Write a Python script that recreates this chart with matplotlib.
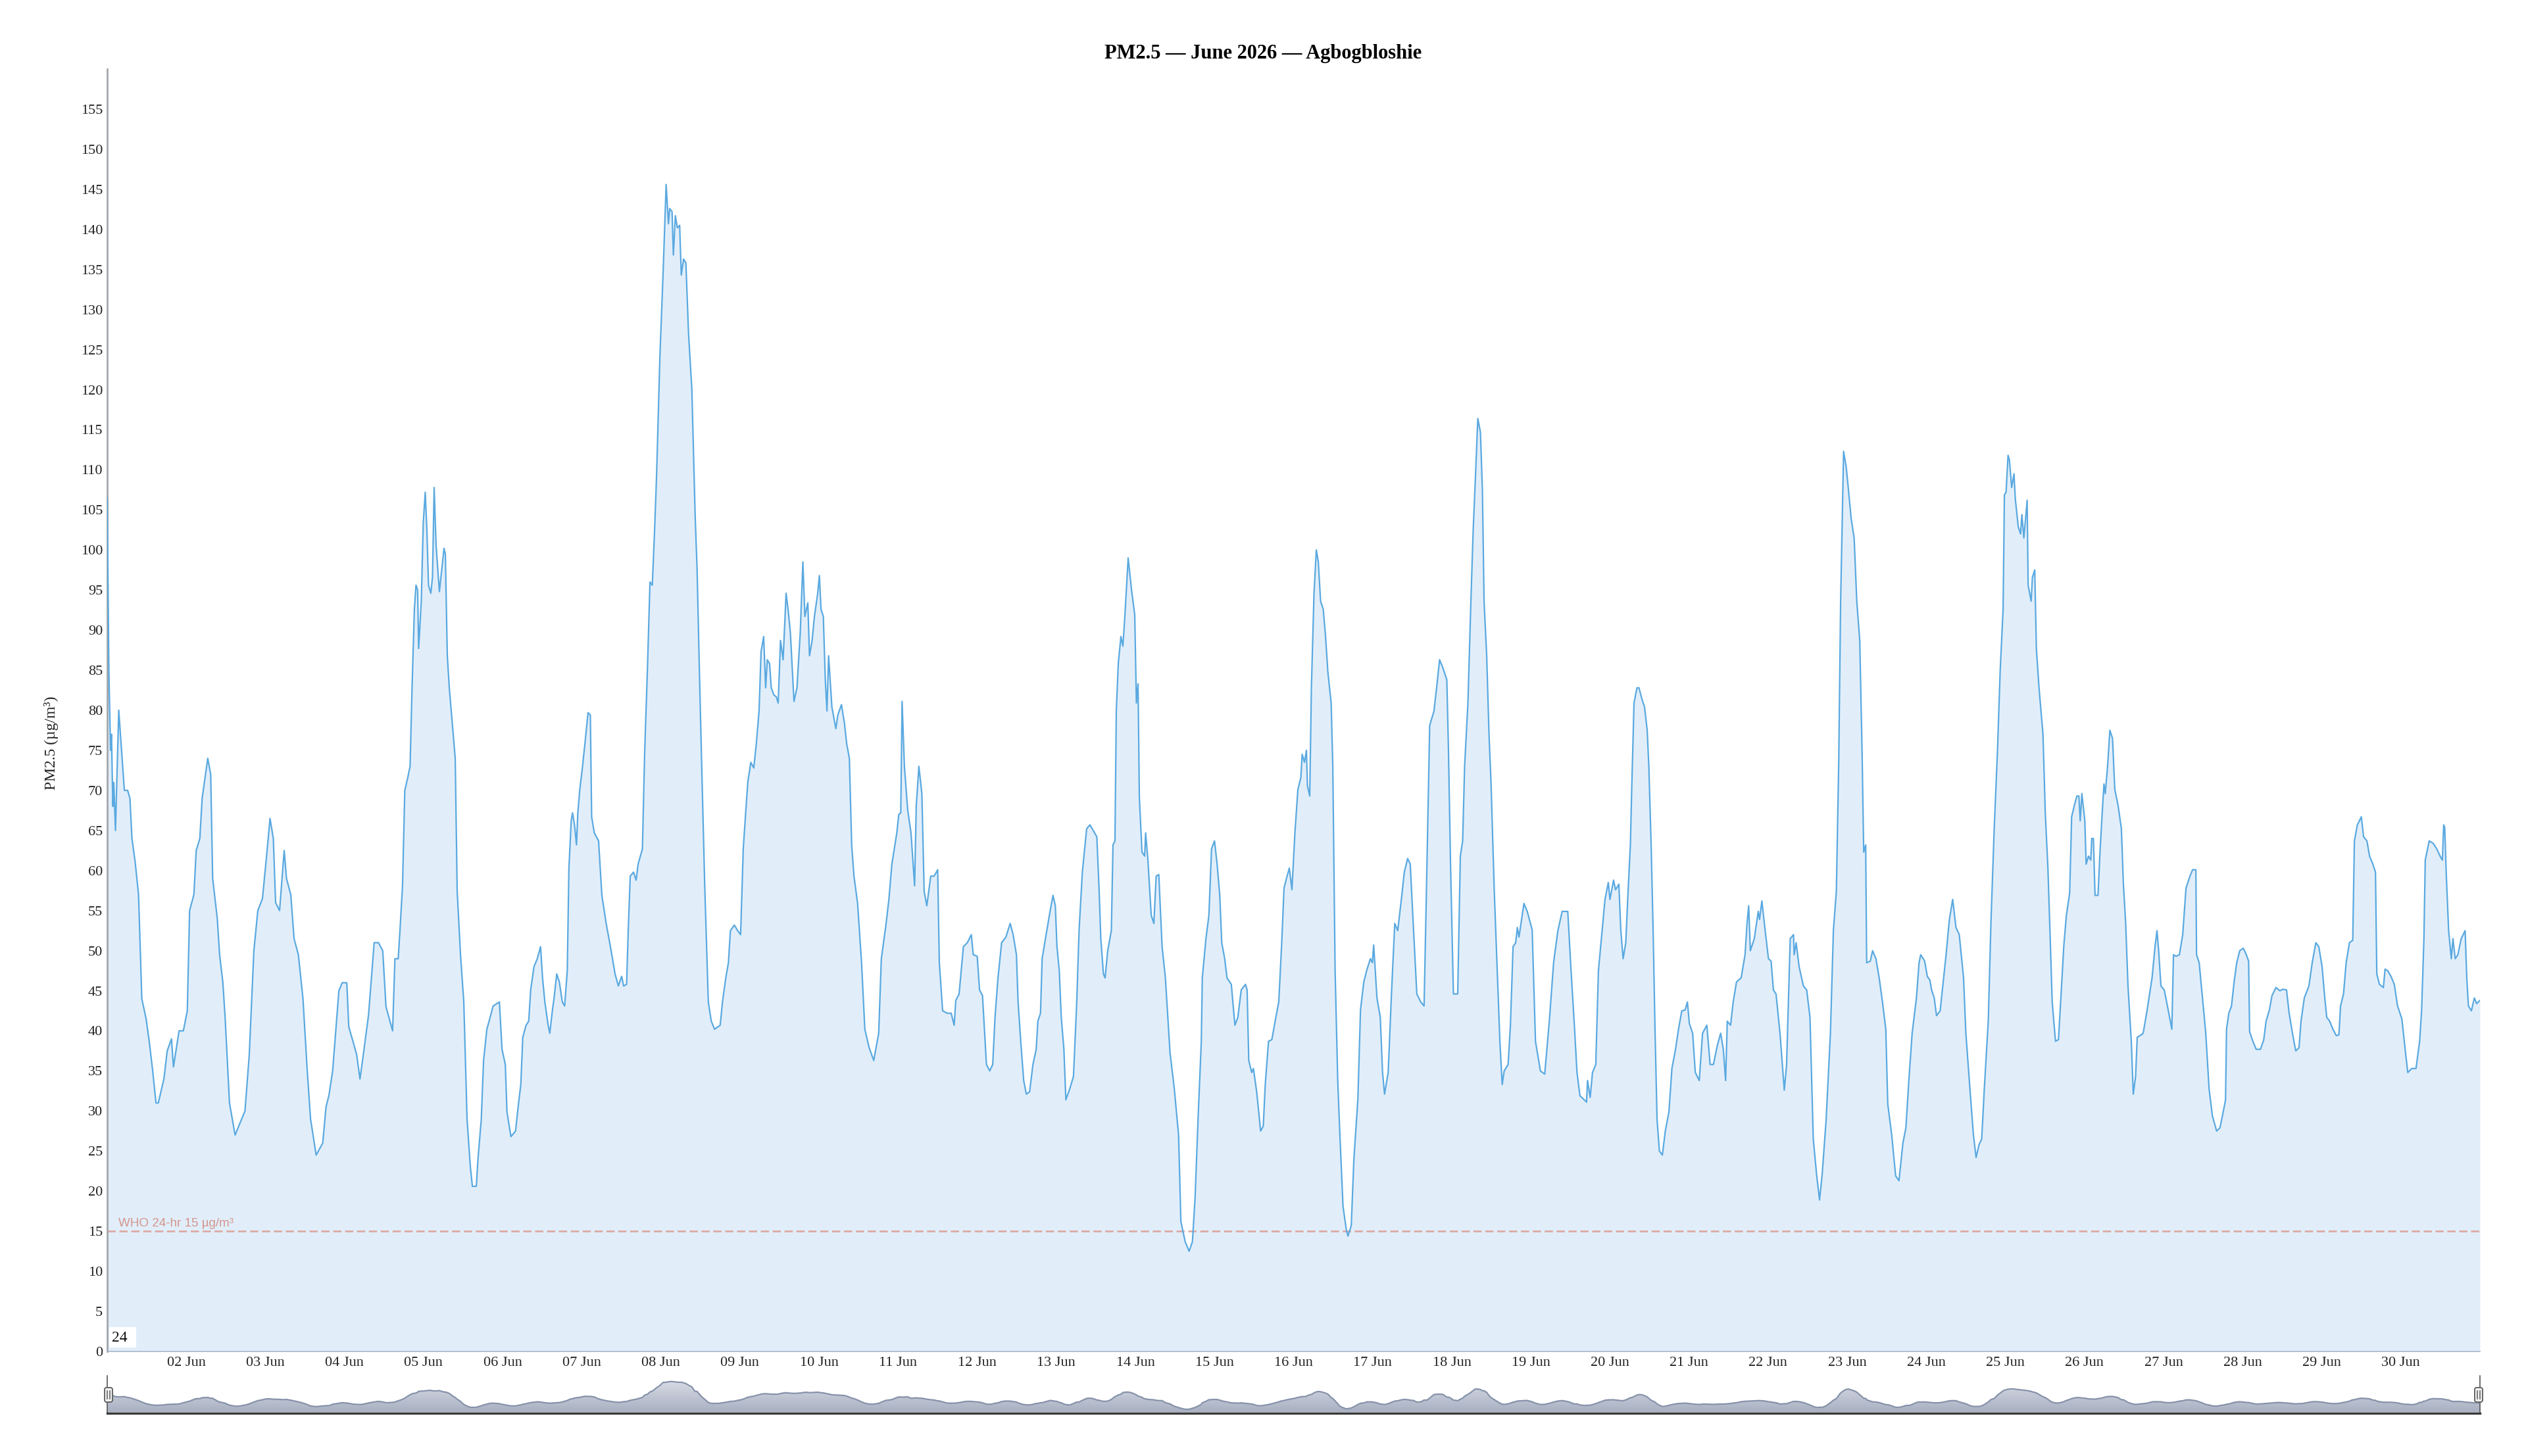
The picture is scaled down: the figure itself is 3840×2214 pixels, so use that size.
import matplotlib
matplotlib.use('Agg')
import matplotlib.pyplot as plt
import matplotlib.dates as mdates
from matplotlib.patches import Rectangle, FancyBboxPatch
from matplotlib.colors import LinearSegmentedColormap
from matplotlib.transforms import IdentityTransform
import numpy as np
import pandas as pd

# ---- data: hours since 01 Jun 2026 00:00, PM2.5 in µg/m³ ----
hours = [
    # 01-04 Jun
    0, 0.5, 1, 1.3, 1.7, 2, 2.5, 3.5, 5.2, 6.2, 6.9, 7.5, 8.5, 9.5, 10.5, 11.8, 12.8, 13.8, 14.8, 15.5,
    17.2, 18.2, 19.5, 20.1, 21.8, 23.1, 24.3, 25, 26.3, 27, 28.1, 28.8, 30.5, 31.4, 32, 33.4, 34.1, 35.1, 35.8, 37.1,
    38.8, 39.8, 41.8, 43.1, 44.5, 45.7, 47.1, 48.4, 49.4, 50.4, 51.1, 52.3, 53.7, 54.4, 55.7, 56.7, 58, 59.4, 60.7, 61.7,
    63.4, 65.4, 66.4, 67.3, 68.4, 70.3, 71.3, 72.7, 73.3, 74.7, 75.7, 76.7, 77.7, 79.3, 81, 82.3, 83.6, 84.6, 86.6, 87.3,
    88.3, 88.9, 89.6, 90.3,
    # 04-08 Jun
    91.2, 91.9, 92.5, 93.2, 93.7, 94.2, 94.5, 95.3, 95.9, 96.5, 97, 97.5, 98.2, 98.7, 99.2, 99.8, 100.8, 101.5, 102.2, 102.6,
    103.2, 103.8, 104.8, 105.6, 106.2, 107.2, 108.2, 109.2, 110.2, 110.8, 112, 112.5, 113.5, 114.2, 115.2, 116.2, 117.1, 119, 119.8, 120.8,
    121.3, 122.5, 123.9, 124.8, 125.5, 126.1, 127.1, 127.9, 128.5, 129.5, 130.5, 131.5, 132.1, 132.8, 133.8, 134.3, 135.1, 135.6, 136.4, 137.2,
    138.1, 138.8, 139.6, 140.1, 140.8, 141.2, 141.8, 142.4, 142.8, 143.4, 144.1, 145, 145.9, 146.6, 147, 147.8, 149.1, 150.1, 151.4, 152.7,
    154.1, 155.1, 156.1, 156.7, 157.6, 158.1, 158.7, 159.7, 160.5, 161.1, 162.4, 163.1, 163.9, 164.7, 165.4, 166.1, 166.7, 167.7, 168.7, 169.6,
    170.3, 170.7, 171.4, 171.8, 172.4, 173, 173.7, 174.2, 174.9, 175.6, 176.4, 177.4, 178.4, 179, 179.7, 180.4, 181.3, 182.4,
    # 08-12 Jun
    183.3, 184.3, 185.3, 186, 186.7, 187.7, 188.5, 189.1, 190.3, 191.3, 192.2, 193, 193.8, 194.4, 195.3, 196.2, 197, 197.8, 198.4, 199.2,
    199.8, 200.3, 201, 201.5, 202.3, 203, 203.6, 204.3, 205.1, 206, 206.6, 207.3, 208.4, 209.3, 210.3, 211.1, 211.7, 212.6, 213.1, 213.9,
    214.6, 215.6, 216.1, 216.6, 217.3, 217.9, 218.4, 218.9, 219.9, 221.1, 221.7, 222.8, 223.7, 224.4, 225.2, 225.9, 226.6, 227.7, 228.9, 229.9,
    231.2, 232.6, 234.1, 234.9, 236.2, 237.2, 238.1, 239.6, 240.2, 240.8, 241.2, 241.9, 242.9, 243.9, 245, 245.5, 246.3, 247.2, 247.9, 248.7,
    249.9, 250.9, 252, 252.5, 253.5, 254.9, 256.1, 257, 257.5, 258.5, 259.8, 261, 262.2, 262.8, 264, 264.7, 265.6, 266.8, 267.8, 268.7,
    269.4, 270.3, 271.4, 272.7, 274,
    # 12-16 Jun
    274.9, 275.9, 276.4, 277.2, 278.1, 278.9, 279.9, 280.9, 281.9, 282.4, 283.2, 283.7, 284.9, 286.1, 287, 287.7, 288.2, 288.9, 289.5, 290.3,
    290.9, 292.1, 293.2, 294.2, 294.9, 295.9, 297.2, 298.2, 299.2, 300.3, 301, 301.5, 302.3, 302.8, 303.6, 304.7, 305.2, 305.8, 306.2, 306.8,
    307.6, 308.2, 308.8, 309.8, 310.8, 311.8, 312.3, 312.8, 313.2, 314, 314.8, 315.1, 315.8, 316.8, 317.6, 318.3, 319.1, 320.1, 321.1, 322.5,
    323.8, 325.1, 325.8, 327.1, 328.3, 329.3, 330.1, 331.1, 332, 332.3, 333.4, 334.3, 335.1, 336, 336.8, 337.6, 338.2, 339.1, 339.8, 341.1,
    342.2, 343.1, 344.1, 345.4, 345.9, 346.4, 347.3, 347.8, 348.8, 350, 350.8, 351.4, 352.4, 353.4, 354.4, 355.5, 356.4, 357.1, 357.7, 358.7,
    359.5, 360.4, 361.3, 362.2, 362.6, 363.3, 363.9, 364.2, 364.9, 365.4, 366.2, 366.9,
    # 16-20 Jun
    367.5, 368.2, 369, 369.7, 370.4, 371.4, 371.9, 372.6, 373.4, 374, 375, 376, 376.5, 377.5, 378.3, 379.5, 380.3, 381.3, 382.3, 383.3,
    383.9, 384.3, 385.3, 386.3, 387, 387.6, 388.7, 389.7, 390.7, 391.6, 392.7, 393.6, 394.6, 395.4, 396.3, 397.4, 398.6, 399.6, 400.5, 401.3,
    402.6, 403.4, 404.3, 405.3, 406.5, 407, 407.6, 408.5, 409.8, 410.6, 411.3, 411.9, 412.9, 413.8, 414.5, 415.1, 415.9, 416.7, 417.3, 417.8,
    418.6, 419.3, 419.9, 420.9, 421.8, 422.6, 423.3, 423.9, 425.1, 425.8, 426.6, 427.4, 427.9, 428.4, 429.9, 430.9, 432.4, 433.4, 434.9, 436.2,
    437.6, 438.9, 440.2, 441.5, 443.2, 444.2, 445.2, 446, 446.9, 448.2, 448.9, 449.2, 450, 450.7, 451.7, 452.5, 453.5, 454.5, 455.5, 456,
    457.1, 457.7, 458.7,
    # 20-24 Jun
    459.3, 460, 460.8, 461.5, 462.2, 462.6, 463.3, 464.2, 464.8, 465.7, 466.5, 467.3, 467.8, 468.5, 469.1, 469.7, 470.3, 471, 471.9, 472.8,
    473.9, 474.8, 475.9, 476.8, 477.8, 478.8, 479.5, 480.1, 481.1, 481.9, 483.1, 484.1, 485.4, 486.4, 487.4, 488.6, 489.6, 490.4, 491.1, 491.6,
    492.6, 493.4, 494.4, 495.8, 497, 497.6, 498.1, 498.6, 499.8, 501, 501.4, 502.1, 503.1, 504.1, 504.9, 505.6, 506.4, 507.6, 508.9, 509.6,
    510.7, 511.7, 511.9, 512.5, 513.4, 514.7, 515.7, 516.7, 517.7, 518.7, 519.6, 520.4, 521.6, 522.9, 523.8, 524.7, 525.4, 526, 526.9, 527.7,
    528.4, 529.2, 530.1, 530.9, 531.8, 532.5, 533, 533.6, 533.9, 535, 535.7, 536.7, 537.7, 538.7, 539.7, 540.3, 541.5, 542.7, 543.7, 544.9,
    545.8, 546.7, 547.7, 549, 549.8,
    # 24-28 Jun
    550.3, 551.5, 552.3, 553.1, 553.6, 554.4, 555.1, 556.2, 557, 558, 559, 560, 561, 562, 563.3, 564, 565.3, 566.3, 567.1, 568,
    568.8, 569.6, 570.8, 571.6, 572.6, 573.6, 574.4, 575.3, 575.7, 576.2, 576.8, 577.2, 577.9, 578.6, 579, 579.9, 580.6, 581, 581.6, 582.6,
    582.9, 583.8, 584.2, 584.9, 585.4, 586.2, 587.4, 588.1, 588.9, 589.6, 590.2, 591.2, 592.1, 592.9, 593.7, 594.5, 595.5, 596.1, 596.9, 597.7,
    598.3, 598.7, 599.2, 600.1, 600.5, 601.2, 601.9, 602.2, 602.7, 603.2, 604.1, 604.7, 605.5, 605.9, 606.3, 607, 607.7, 608.5, 609.2, 610.2,
    611.2, 611.8, 612.5, 613.2, 614.2, 614.8, 615.5, 616, 617.2, 617.8, 619, 620.5, 621.4, 622, 622.5, 623.2, 624.2, 625.4, 626.5, 627,
    627.8, 628.8, 629.8, 630.8, 632, 632.8, 633.8, 634, 634.8, 635.8, 636.8, 637.8, 638.8, 640.1, 641.1,
    # 28-30 Jun
    642.1, 642.8, 643.1, 643.8, 644.6, 645.4, 646.2, 647.1, 648.2, 649.1, 649.8, 650.1, 651.1, 652.1, 653.4, 654.4, 655.1, 656.1, 656.9, 658.1,
    659.3, 660.2, 661.3, 662.1, 663.1, 664.1, 665.1, 665.7, 666.7, 668.1, 669.1, 670.2, 671.1, 672.1, 672.8, 673.5, 674.4, 675.4, 676.4, 677.2,
    677.7, 678.6, 679.4, 680.4, 681.4, 681.9, 682.8, 684, 684.7, 685.7, 686.5, 687.5, 688.3, 688.7, 689.5, 690.7, 691.2, 692, 693, 694,
    695, 696.3, 697.3, 698.1, 699.3, 700.6, 701.7, 702.3, 703, 703.4, 704.6, 705.8, 706.9, 707.9, 708.6, 709, 709.3, 709.8, 710.5, 711.3,
    711.8, 712.5, 713.3, 714.3, 715.5, 716, 716.5, 717.4, 718.3, 719, 720,
]

pm25 = [
    # 01-04 Jun
    106.5, 85, 75, 77, 68, 71, 65, 80, 70, 70, 69, 64, 61, 57, 44, 41.5, 38.5, 35, 31, 31,
    34, 37.5, 39, 35.5, 40, 40, 42.5, 55, 57, 62.5, 64, 69, 74, 72, 59, 54, 49.5, 46, 41.5, 31,
    27, 28, 30, 37, 50, 55, 56.5, 62, 66.5, 64, 56, 55, 62.5, 59, 57, 51.5, 49.5, 44, 35, 29,
    24.5, 26, 30.5, 32, 35, 45, 46, 46, 40.5, 38.5, 37, 34, 37, 42, 51, 51, 50, 43, 40, 49,
    49, 53, 58, 70,
    # 04-08 Jun
    71.6, 73, 82.8, 92.6, 95.6, 95, 87.7, 93.6, 103.4, 107.2, 102.5, 95.6, 94.6, 96.6, 107.8, 100.5, 94.8, 97.5, 100.2, 99.5,
    86.8, 82.8, 77.9, 74, 57.4, 49.5, 43.6, 28.9, 23, 20.6, 20.6, 24, 28.9, 36.3, 40.2, 41.7, 43.1, 43.6, 37.7, 35.8,
    29.9, 26.8, 27.5, 30.9, 33.3, 39.2, 40.7, 41.2, 45.1, 48, 49, 50.5, 46.6, 43.6, 40.7, 39.7, 42.6, 44.1, 47.1, 46.1,
    43.6, 43.1, 47.5, 60.3, 66.2, 67.2, 65.7, 63.2, 67.2, 70.1, 72.5, 76, 79.7, 79.4, 66.7, 64.7, 63.7, 56.9, 53.4, 50.5,
    47.1, 45.6, 46.8, 45.6, 45.8, 52.5, 59.3, 59.8, 58.8, 60.8, 62.7, 75, 84.8, 96, 95.6, 102.5, 109.3, 124, 134.8, 145.6,
    140.7, 142.6, 142.2, 136.8, 141.7, 140.2, 140.5, 134.3, 136.3, 135.8, 127, 120.1, 104.4, 97.5, 84.8, 73, 58.3, 43.6,
    # 08-12 Jun
    41.2, 40.2, 40.5, 40.7, 43.6, 46.6, 48.5, 52.5, 53.2, 52.5, 52, 62.7, 67.6, 71.1, 73.5, 72.8, 76, 79.9, 87.3, 89.2,
    82.8, 86.3, 85.8, 82.8, 81.9, 81.7, 80.9, 88.7, 86.3, 94.6, 92.6, 89.7, 81.1, 82.8, 89.7, 98.5, 91.7, 93.4, 86.8, 88.7,
    91.7, 94.6, 96.8, 92.6, 91.7, 83.8, 79.9, 86.8, 80.4, 77.7, 79.4, 80.7, 78.4, 75.8, 74, 63.2, 59.3, 55.9, 48.5, 40.2,
    37.9, 36.3, 39.7, 49, 52.9, 56.4, 60.8, 64.7, 67, 67.2, 81.1, 73, 67.6, 64.7, 58.1, 68.1, 73, 69.6, 57.4, 55.6,
    59.3, 59.3, 60.1, 48.5, 42.5, 42.2, 42.2, 40.7, 43.8, 44.6, 50.5, 51, 52, 49.5, 49.3, 45.1, 44.4, 35.8, 35, 35.8,
    41.7, 46.6, 51, 51.7, 53.4,
    # 12-16 Jun
    52, 49.5, 43.6, 38.7, 33.8, 32.1, 32.4, 35.8, 37.7, 41.2, 42.2, 49, 52, 54.9, 56.9, 55.6, 50.5, 47.5, 41.7, 37.7,
    31.4, 32.8, 34.3, 43.6, 52.5, 59.8, 65.2, 65.7, 65, 64.2, 57.4, 51.5, 47.1, 46.6, 50, 52.5, 63.2, 63.7, 79.9, 85.8,
    89.2, 88, 91.7, 99, 95.1, 91.9, 80.9, 83.3, 69.1, 62.3, 61.8, 64.7, 61.3, 54.4, 53.4, 59.3, 59.5, 50.5, 46.6, 37.3,
    32.8, 27, 16.2, 13.7, 12.5, 13.7, 19.1, 29.9, 38.7, 46.6, 51.5, 54.4, 62.7, 63.7, 60.8, 56.9, 51, 49, 46.6, 45.8,
    40.7, 41.7, 45.1, 45.8, 45.1, 36.3, 34.8, 35.3, 32.4, 27.5, 28.1, 33.3, 38.7, 38.9, 41.2, 43.6, 51, 57.8, 58.8, 60.3,
    57.6, 64.7, 70.1, 71.6, 74.5, 73.5, 75, 70.6, 69.3, 82.8, 94.6, 100,
    # 16-20 Jun
    98.5, 93.6, 92.6, 89.2, 84.8, 80.9, 73, 47.5, 33.8, 27.5, 18.1, 15.2, 14.4, 15.7, 24, 31.4, 42.6, 46.1, 47.7, 49,
    48.5, 50.7, 44.1, 41.7, 34.8, 32.1, 34.8, 44.6, 53.4, 52.5, 56.4, 59.8, 61.5, 60.8, 53.4, 44.6, 43.6, 43.1, 61.3, 78.1,
    79.9, 82.8, 86.3, 85.3, 83.8, 75, 61.3, 44.6, 44.6, 61.8, 63.7, 73, 80.9, 93.6, 102.5, 108.3, 116.4, 114.7, 107.4, 93.6,
    86.8, 77, 71.1, 57.4, 47.5, 38.7, 33.3, 35, 35.8, 40.7, 50.5, 51, 52.9, 51.7, 55.9, 54.9, 52.6, 38.7, 35, 34.6,
    41.2, 48.5, 52.5, 54.9, 54.9, 47.5, 40.7, 34.8, 31.9, 31.4, 31.1, 33.8, 31.7, 34.8, 35.8, 47.5, 52, 56.4, 58.5, 56.4,
    58.8, 57.6, 58.3,
    # 20-24 Jun
    52.5, 49, 51, 57.4, 63.2, 70.1, 80.9, 82.8, 82.8, 81.4, 80.4, 77.5, 73, 63.2, 52.5, 39.7, 28.9, 25, 24.5, 27.5,
    29.9, 35.3, 37.7, 40.2, 42.5, 42.6, 43.6, 40.9, 39.7, 34.8, 33.8, 39.7, 40.7, 35.8, 35.8, 38.2, 39.7, 37.7, 33.8, 41.2,
    40.7, 43.6, 46.1, 46.6, 49.5, 53.4, 55.6, 50, 51.5, 54.9, 53.9, 56.2, 52.5, 49, 48.7, 45.1, 44.6, 39.7, 32.6, 35.8,
    51.5, 52, 49.5, 51, 48, 45.6, 45.1, 41.7, 26.5, 22.1, 18.9, 22.1, 28.9, 39.7, 52.5, 57.4, 73, 93.6, 112.3, 110.3,
    107.4, 103.9, 101.5, 93.6, 88.7, 75, 62.3, 63.2, 48.5, 48.7, 50, 49, 46.6, 43.6, 40.2, 30.9, 27, 21.9, 21.3, 26,
    27.9, 33.8, 39.7, 44.1, 48.5,
    # 24-28 Jun
    49.5, 48.7, 46.8, 46.3, 45.1, 44.1, 41.9, 42.5, 45.6, 49.5, 53.9, 56.4, 52.9, 52, 46.6, 39.7, 32.4, 27, 24.2, 25.8,
    26.5, 32.8, 41.2, 53.4, 65.2, 75, 84.8, 92.6, 106.9, 107.2, 111.8, 111.3, 107.8, 109.5, 106.4, 102.9, 102, 104.4, 101.5, 106.2,
    95.6, 93.6, 96.6, 97.5, 87.7, 82.8, 77, 67.2, 60.3, 51.5, 43.6, 38.7, 38.9, 44.6, 50.5, 54.4, 57.2, 66.7, 68.1, 69.3,
    69.3, 66.2, 69.6, 66.2, 60.8, 61.8, 61.3, 64, 64, 56.9, 56.9, 62.3, 68.1, 70.8, 69.6, 73, 77.5, 76.5, 70.1, 68.1,
    65.2, 58.3, 53.4, 45.6, 38.7, 32.1, 34.3, 39.2, 39.5, 39.7, 42.6, 46.6, 50.5, 52.5, 50, 45.6, 45.1, 42.6, 40.2, 49.5,
    49.3, 49.5, 52, 57.8, 59.3, 60.1, 60.1, 49.5, 48.5, 44.1, 39.7, 32.8, 29.4, 27.5, 27.9,
    # 28-30 Jun
    29.9, 31.4, 40.2, 42.2, 43.1, 46.1, 48.5, 50, 50.3, 49.5, 48.7, 39.9, 38.7, 37.7, 37.7, 38.9, 41.2, 42.6, 44.4, 45.4,
    45, 45.2, 45.1, 42.2, 39.7, 37.5, 37.9, 41.2, 44.1, 45.6, 48.5, 51, 50.5, 48, 44.6, 41.7, 41.2, 40.2, 39.4, 39.5,
    43.1, 44.6, 48.5, 51, 51.3, 63.7, 65.7, 66.7, 64.2, 63.7, 61.8, 60.8, 59.8, 47.1, 45.8, 45.4, 47.7, 47.5, 46.8, 45.8,
    43.1, 41.5, 37.7, 34.8, 35.3, 35.3, 38.7, 42.6, 51.5, 61.3, 63.7, 63.4, 62.7, 61.8, 61.3, 65.7, 65.4, 59.3, 52.5, 49,
    51.5, 49, 49.5, 51.5, 52.5, 46.6, 43.1, 42.5, 44.1, 43.4, 43.8,
]

who_limit = 15
title = 'PM2.5 — June 2026 — Agbogbloshie'
ylabel = 'PM2.5 (µg/m³)'
who_text = 'WHO 24-hr 15 µg/m³'
range_text = '24'
yticks = np.arange(0, 156, 5)

assert len(hours) == len(pm25)

start = pd.Timestamp('2026-06-01 00:00')
times = start + pd.to_timedelta(hours, unit='h')
t = mdates.date2num(times.to_pydatetime())
series = pd.Series(pm25, index=times)
# navigator shows a lightly grouped version of the same series
smooth = series.rolling('4h', center=True).mean().values

day_ticks = mdates.date2num(pd.date_range('2026-06-02', '2026-06-30', freq='D').to_pydatetime())
x0 = mdates.date2num(start.to_pydatetime())
x1 = mdates.date2num((start + pd.Timedelta(hours=720)).to_pydatetime())

W, H = 3840, 2214
serif = 'Liberation Serif'
sans = 'Liberation Sans'

fig = plt.figure(figsize=(W / 200, H / 200), dpi=200)
fig.patch.set_facecolor('white')

# main chart
ax = fig.add_axes([163 / W, 1 - 2055 / H, 3607 / W, 1950 / H])
ax.fill_between(t, pm25, 0, color='#e1eefa', lw=0, zorder=1)
ax.plot(t, pm25, color='#5aa9e0', lw=0.8, zorder=3)
ax.axhline(who_limit, color='#dcaaa4', lw=1.0, dashes=(4.5, 2), zorder=2)
ax.text(x0 + 3.4 / 24, 15.6, who_text, fontsize=6.8, family=sans,
        color='#d4968c', va='baseline', ha='left', zorder=4)

ax.set_xlim(x0, x1)
ax.set_ylim(0, 160)
ax.set_yticks(yticks)
ax.set_xticks(day_ticks)
ax.xaxis.set_major_formatter(mdates.DateFormatter('%d Jun'))
ax.tick_params(axis='x', length=0, pad=3, labelsize=8, labelcolor='#222')
ax.tick_params(axis='y', length=0, pad=2.5, labelsize=8, labelcolor='#222')
for lab in ax.get_xticklabels() + ax.get_yticklabels():
    lab.set_family(serif)
for side in ['top', 'right']:
    ax.spines[side].set_visible(False)
ax.spines['left'].set_color('#a3a6aa')
ax.spines['left'].set_linewidth(1.0)
ax.spines['bottom'].set_color('#aab5c6')
ax.spines['bottom'].set_linewidth(0.6)

fig.text(0.5, 1 - 81 / H, title, ha='center', va='center',
         fontsize=11, fontweight='bold', family=serif)
fig.text(78 / W, 1 - 1130 / H, ylabel, ha='center', va='center',
         rotation=90, fontsize=8.5, family=serif, color='#222')

# small white label box in the lower-left corner
fig.add_artist(Rectangle((166 / W, 1 - 2049 / H), 41 / W, 31 / H,
                         transform=fig.transFigure, facecolor='white',
                         edgecolor='none', zorder=5))
fig.text(170 / W, 1 - 2034 / H, range_text, ha='left', va='center',
         fontsize=8.5, family=serif, color='#111', zorder=6)

# navigator
nav = fig.add_axes([163 / W, 1 - 2149 / H, 3607 / W, 57 / H])
ytop = 168
poly = nav.fill_between(t, smooth, 0, facecolor='none', lw=0)
grad = np.linspace(0, 1, 256).reshape(-1, 1)
cmap = LinearSegmentedColormap.from_list('nav', ['#a7afc1', '#dfe2ea'])
img = nav.imshow(grad, extent=[x0, x1, 0, ytop], aspect='auto', cmap=cmap,
                 origin='lower', zorder=1)
img.set_clip_path(poly.get_paths()[0], transform=nav.transData)
nav.plot(t, smooth, color='#8793aa', lw=0.8, zorder=2)
nav.set_xlim(x0, x1)
nav.set_ylim(-4, ytop)
nav.set_xticks([])
nav.set_yticks([])
nav.spines['top'].set_visible(False)
nav.spines['bottom'].set_color('#3a3a3a')
nav.spines['bottom'].set_linewidth(1.2)
for side in ['left', 'right']:
    nav.spines[side].set_color('#555')
    nav.spines[side].set_linewidth(0.6)

# navigator handles (pixel coordinates)
for hx in [165, 3768]:
    fig.add_artist(FancyBboxPatch((hx - 6, H - 2132), 12, 22,
                                  boxstyle='round,pad=0,rounding_size=3',
                                  transform=IdentityTransform(),
                                  facecolor='#f2f2f2', edgecolor='#666',
                                  lw=0.7, zorder=6))
    for dx in (-2, 2):
        fig.add_artist(plt.Line2D([hx + dx, hx + dx], [H - 2127, H - 2115],
                                  transform=IdentityTransform(),
                                  color='#666', lw=0.6, zorder=7))

fig.savefig('out.png', dpi=200, facecolor='white')
